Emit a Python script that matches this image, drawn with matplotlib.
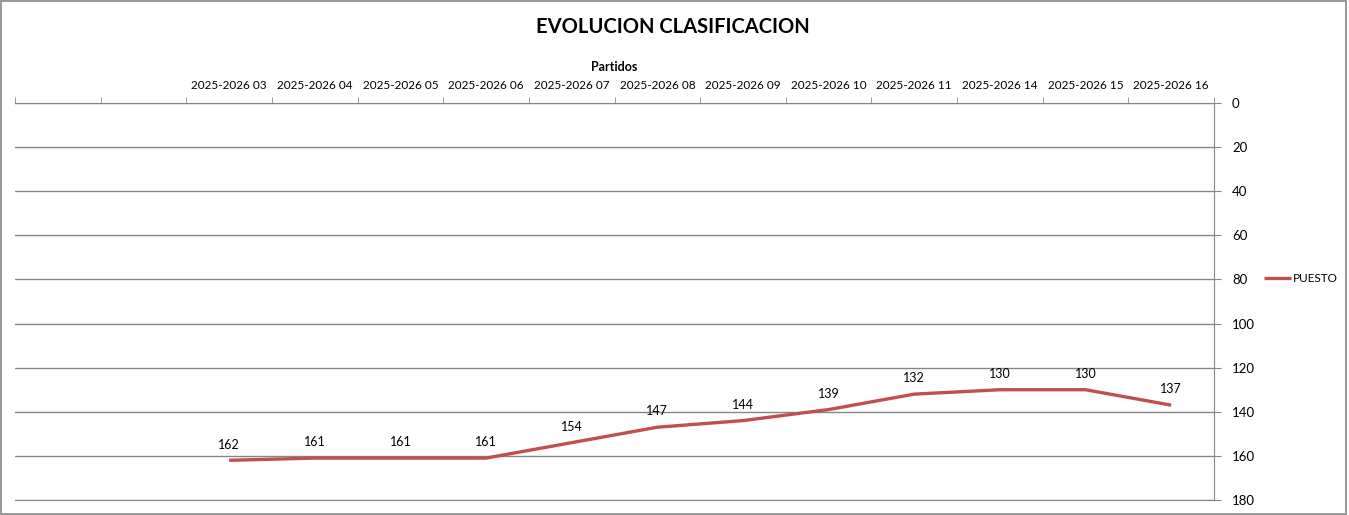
import matplotlib
matplotlib.use("Agg")
import matplotlib.pyplot as plt
import numpy as np

# data
partidos = ["", "", "2025-2026 03", "2025-2026 04", "2025-2026 05", "2025-2026 06",
            "2025-2026 07", "2025-2026 08", "2025-2026 09", "2025-2026 10",
            "2025-2026 11", "2025-2026 14", "2025-2026 15", "2025-2026 16"]
puesto = [np.nan, np.nan, 162, 161, 161, 161, 154, 147, 144, 139, 132, 130, 130, 137]

plt.rcParams['font.family'] = ['Lato', 'DejaVu Sans']

fig = plt.figure(figsize=(13.49, 5.15), dpi=100)
ax = fig.add_axes([15/1349, 1-500/515, (1214-15)/1349, (500-103)/515])

x = np.arange(len(partidos))
ax.plot(x, puesto, color="#C0504D", lw=2.4, label="PUESTO", solid_capstyle="butt")
for xi, v in zip(x, puesto):
    if not np.isnan(v):
        ax.annotate(str(v), (xi, v), xytext=(0, 7), textcoords="offset points",
                    ha="center", va="bottom", fontsize=9)

ax.set_xlim(-0.5, len(partidos) - 0.5)
ax.set_ylim(180, 0)
ax.set_yticks(np.arange(0, 181, 20))
ax.yaxis.tick_right()
ax.tick_params(axis="y", direction="out", length=5, color="#868686", labelsize=9.5, pad=8)
ax.grid(axis="y", color="#868686", lw=1)
ax.set_axisbelow(True)

ax.xaxis.tick_top()
ax.xaxis.set_label_position("top")
ax.set_xticks(x)
ax.set_xticklabels(partidos, fontsize=8.5)
ax.set_xticks(np.arange(-0.5, len(partidos)), minor=True)
ax.tick_params(axis="x", which="major", length=0, pad=9)
ax.tick_params(axis="x", which="minor", direction="out", length=4, color="#868686", top=True, bottom=False)
ax.set_xlabel("Partidos", fontsize=9, fontweight="bold", labelpad=6)

ax.spines["left"].set_visible(False)
for s in ["top", "right", "bottom"]:
    ax.spines[s].set_color("#868686")

fig.text(0.499, 1-27/515, "EVOLUCION CLASIFICACION", ha="center", va="center",
         fontsize=14.5, fontweight="bold")

leg = ax.legend(loc="center left", bbox_to_anchor=(1253/1349, 1-279/515),
                bbox_transform=fig.transFigure, frameon=False, fontsize=8.5,
                handlelength=2.3, handletextpad=0.2)

# outer chart border
fig.patches.append(plt.Rectangle((0.001, 0.002), 0.997, 0.996, transform=fig.transFigure,
                                 fill=False, ec="#868686", lw=1.2))

fig.savefig("out.png", dpi=100)
